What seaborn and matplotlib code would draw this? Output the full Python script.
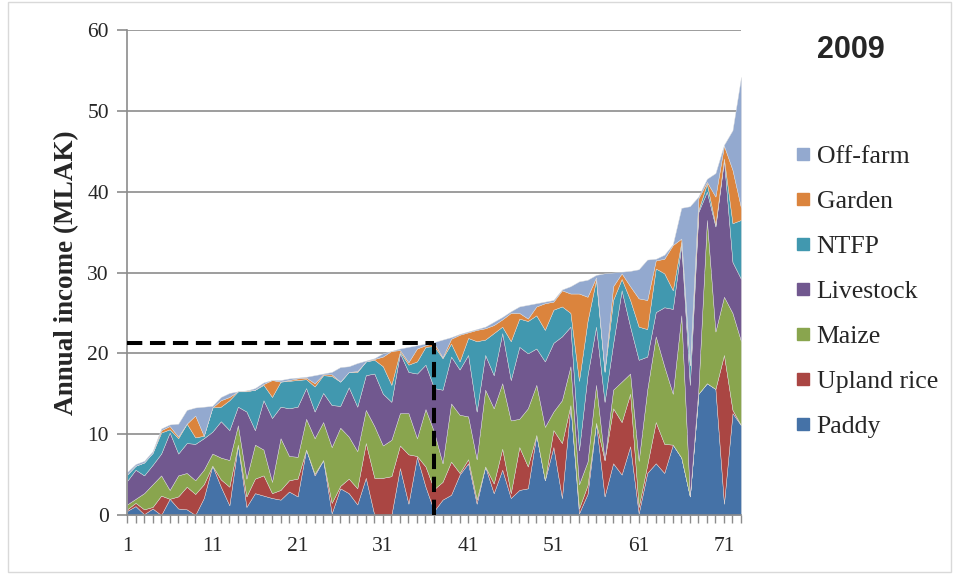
import matplotlib
matplotlib.use("Agg")
import matplotlib.pyplot as plt
import seaborn as sns
import numpy as np
from matplotlib.lines import Line2D
from matplotlib.patches import Rectangle

# household number (ranked by total income), 73 households
households = list(range(1, 74))

paddy = [0.5, 1.1, 0.1, 0.8, 0.0, 2.0, 0.8, 0.7, 0.0, 2.1,
         6.1, 3.5, 1.2, 8.7, 1.0, 2.7, 2.4, 2.1, 1.9, 2.9,
         2.3, 8.1, 4.9, 6.8, 0.2, 3.3, 2.7, 1.3, 4.6, 0.0,
         0.0, 0.0, 5.8, 1.4, 7.2, 3.5, 0.5, 1.9, 2.5, 5.0,
         6.4, 1.4, 6.0, 2.7, 5.6, 2.1, 3.1, 3.3, 9.9, 4.3,
         8.4, 2.1, 13.6, 0.2, 2.6, 11.4, 2.3, 6.4, 5.0, 8.5,
         0.2, 5.2, 6.4, 5.2, 8.7, 7.1, 2.3, 15.0, 16.3, 15.6,
         1.4, 12.6, 11.1]
upland_rice = [0.2, 0.4, 0.6, 0.2, 2.4, 0.0, 1.5, 2.8, 2.6, 1.7,
               0.0, 0.9, 2.3, 0.0, 1.3, 1.8, 2.5, 0.6, 1.2, 1.4,
               2.2, 0.0, 0.2, 0.0, 1.3, 0.3, 1.8, 2.0, 4.3, 4.6,
               4.6, 4.8, 2.8, 6.1, 0.1, 2.5, 2.7, 2.2, 4.1, 0.2,
               0.5, 0.5, 0.0, 1.2, 2.6, 0.6, 5.3, 2.7, 0.0, 0.0,
               2.1, 6.8, 0.0, 0.6, 1.1, 0.0, 4.5, 6.8, 6.5, 6.5,
               0.8, 1.0, 5.1, 3.6, 0.0, 0.0, 0.0, 0.0, 0.0, 0.0,
               18.4, 0.4, 0.0]
maize = [0.6, 0.5, 2.0, 2.8, 2.5, 1.1, 2.6, 1.7, 1.7, 1.8,
         1.5, 2.7, 3.3, 2.4, 2.2, 4.2, 3.2, 1.4, 6.4, 3.0,
         2.7, 3.8, 4.4, 4.7, 6.9, 7.2, 5.2, 4.6, 4.1, 6.4,
         4.0, 4.5, 4.0, 5.1, 2.2, 7.1, 7.1, 2.3, 7.2, 7.2,
         5.3, 5.0, 9.5, 9.3, 8.1, 9.0, 3.5, 7.2, 6.2, 6.6,
         2.3, 5.3, 4.8, 3.0, 2.9, 4.7, 0.0, 2.3, 5.0, 2.5,
         5.7, 9.3, 10.6, 9.6, 6.3, 17.6, 0.0, 0.6, 20.2, 7.1,
         7.2, 12.0, 10.4]
livestock = [2.9, 3.6, 2.2, 2.4, 2.7, 7.1, 2.7, 3.7, 4.5, 3.9,
             2.7, 4.5, 3.7, 2.3, 8.3, 1.8, 6.1, 7.9, 3.9, 5.9,
             6.2, 3.8, 3.3, 3.6, 5.2, 2.7, 6.1, 5.5, 4.3, 6.5,
             6.4, 4.7, 7.4, 5.1, 8.0, 5.5, 5.4, 9.1, 5.8, 5.6,
             7.6, 5.9, 4.3, 4.1, 6.2, 5.0, 8.9, 6.8, 4.5, 8.1,
             8.5, 7.9, 4.9, 4.2, 10.7, 7.2, 7.2, 5.7, 11.3, 5.8,
             12.5, 4.1, 3.0, 7.3, 10.5, 8.7, 13.8, 21.9, 3.5, 13.0,
             16.9, 6.3, 7.7]
ntfp = [0.8, 0.5, 1.6, 1.5, 2.6, 0.4, 1.9, 2.4, 0.8, 0.3,
        3.0, 1.8, 3.7, 1.9, 2.5, 5.0, 1.9, 2.6, 3.1, 3.4,
        3.3, 1.1, 3.1, 2.2, 3.6, 3.0, 1.9, 4.3, 1.7, 1.7,
        3.4, 2.1, 0.2, 0.9, 1.5, 2.2, 5.2, 3.9, 1.6, 1.0,
        2.1, 8.7, 1.9, 5.2, 0.8, 4.8, 3.5, 4.0, 4.1, 3.9,
        4.1, 3.7, 1.7, 8.6, 6.7, 5.8, 3.7, 5.4, 1.4, 3.3,
        4.1, 3.4, 5.4, 4.2, 2.3, 0.4, 2.4, 0.2, 1.0, 0.2,
        0.2, 4.8, 7.3]
garden = [0.0, 0.0, 0.0, 0.0, 0.3, 0.4, 0.2, 0.0, 2.7, 0.0,
          0.0, 0.8, 0.4, 0.0, 0.1, 0.0, 0.1, 2.1, 0.0, 0.1,
          0.2, 0.2, 0.4, 0.1, 0.2, 0.0, 0.0, 0.1, 0.0, 0.1,
          1.2, 4.2, 0.2, 0.3, 1.6, 0.2, 0.4, 0.1, 0.6, 3.3,
          0.7, 1.4, 1.4, 1.0, 0.9, 3.5, 0.7, 0.3, 1.1, 3.3,
          1.0, 2.0, 2.4, 10.8, 3.0, 0.3, 0.1, 1.7, 0.7, 1.7,
          3.5, 3.6, 1.0, 1.8, 5.6, 0.4, 0.1, 1.5, 0.2, 3.5,
          1.6, 6.6, 1.5]
off_farm = [0.3, 0.2, 0.2, 0.2, 0.2, 0.2, 1.6, 1.7, 1.0, 3.6,
            0.2, 0.4, 0.5, 0.0, 0.0, 0.2, 0.2, 0.0, 0.2, 0.2,
            0.1, 0.1, 1.0, 0.1, 0.3, 1.8, 0.7, 1.0, 0.1, 0.1,
            0.4, 0.0, 0.2, 1.9, 0.4, 0.2, 0.1, 2.2, 0.2, 0.1,
            0.1, 0.1, 0.2, 0.4, 0.3, 0.2, 0.8, 1.7, 0.4, 0.2,
            0.2, 0.1, 0.9, 1.5, 2.1, 0.3, 12.1, 1.7, 0.2, 1.9,
            3.6, 5.0, 0.2, 0.5, 0.1, 3.8, 19.6, 0.2, 0.4, 2.9,
            0.1, 4.9, 16.2]

series_names = ["Paddy", "Upland rice", "Maize", "Livestock", "NTFP", "Garden", "Off-farm"]
series_colors = ["#4572A7", "#AA4643", "#89A54E", "#71588F", "#4198AF", "#DB843D", "#93A9CF"]

median_household = 37
median_income = 21.3

sns.set_theme(style="white")
plt.rcParams["font.family"] = ["Liberation Serif", "DejaVu Serif"]

fig = plt.figure(figsize=(9.58, 5.74), dpi=100)
ax = fig.add_axes([0.1326, 0.1028, 0.6409, 0.8449])

ax.stackplot(households, paddy, upland_rice, maize, livestock, ntfp, garden, off_farm,
             colors=series_colors, linewidth=0.3, edgecolor="#dddddd", zorder=2)

# median dashed guide
ax.plot([1, median_household], [median_income, median_income], color="black",
        lw=2.9, ls=(0, (3.8, 1.9)), zorder=4, clip_on=False)
ax.plot([median_household, median_household], [0, median_income], color="black",
        lw=2.9, ls=(0, (3.8, 1.9)), zorder=4, clip_on=False)

ax.set_xlim(1, 73)
ax.set_ylim(0, 60)
ax.set_yticks(range(0, 61, 10))
ax.set_xticks(range(1, 73, 10))
ax.set_xticks(households, minor=True)
ax.yaxis.grid(True, color="#8c8c8c", lw=1.2, zorder=0)
ax.set_axisbelow(True)
for s in ["top", "right"]:
    ax.spines[s].set_visible(False)
for s in ["left", "bottom"]:
    ax.spines[s].set_color("#8c8c8c")
    ax.spines[s].set_linewidth(1.2)
ax.tick_params(axis="x", which="both", direction="out", length=6, color="#8c8c8c",
               width=1.0, labelsize=15.5, pad=10, bottom=True)
ax.tick_params(axis="y", direction="out", length=7, color="#8c8c8c", width=1.2,
               labelsize=15.5, pad=6, left=True)
ax.set_ylabel("Annual income (MLAK)", fontsize=19.5, fontweight="bold", labelpad=6)

fig.text(0.888, 0.913, "2009", fontsize=22, fontweight="bold",
         family=["Liberation Sans", "DejaVu Sans"], ha="center", va="center")

handles = [Line2D([], [], marker="s", ls="none", markersize=8,
                  markerfacecolor=c, markeredgecolor=c) for c in series_colors]
fig.legend(handles[::-1], series_names[::-1], loc="upper left",
           bbox_to_anchor=(0.8295, 0.7474), frameon=False, fontsize=18.5,
           handletextpad=0.2, labelspacing=0.86, handlelength=0.65, borderpad=0,
           borderaxespad=0)

fig.patches.append(Rectangle((0.008, 0.003), 0.985, 0.994, transform=fig.transFigure,
                             fill=False, edgecolor="#d9d9d9", lw=1.0))

fig.savefig("out.png", dpi=100)
